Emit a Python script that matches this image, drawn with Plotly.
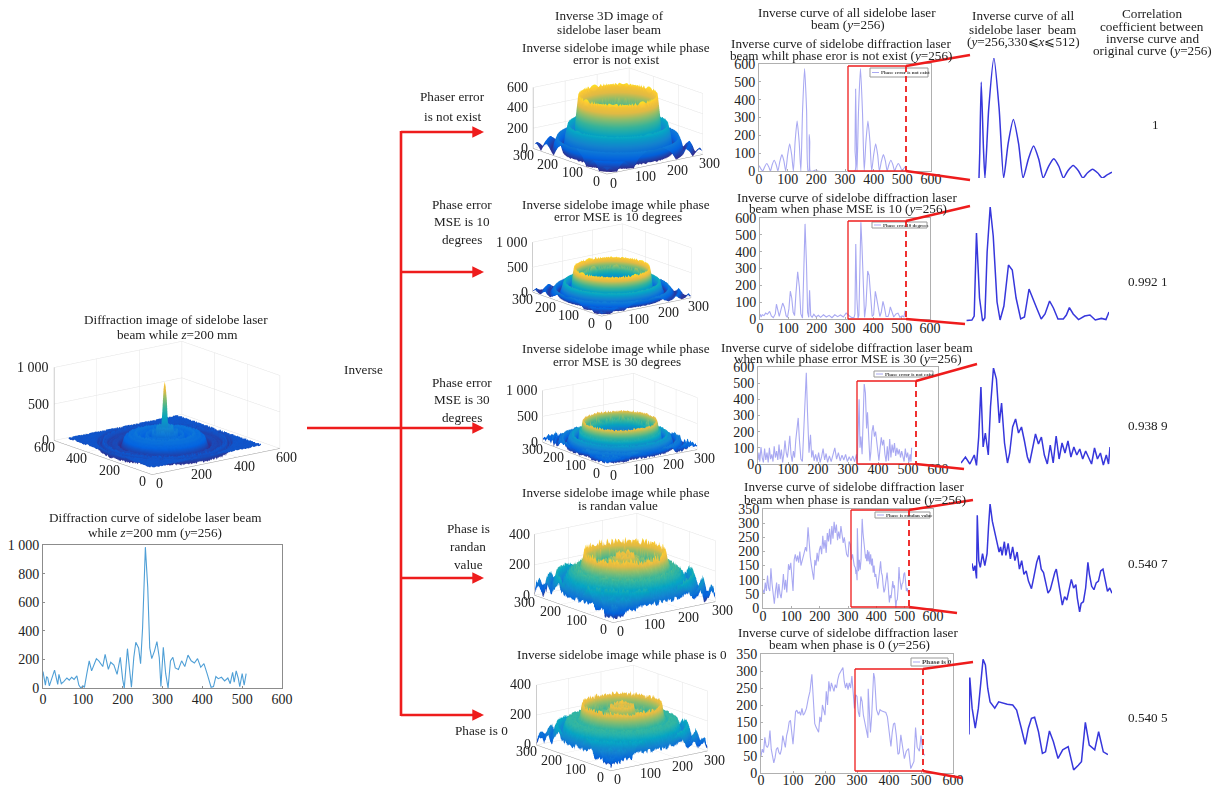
import numpy as np
import plotly.graph_objects as go

W, H = 1220, 787
SERIF = "Liberation Serif"

# ---------- values (x, intensity) ----------
ORIG = [(0,115),(3,75),(6,20),(9,80),(12,70),(16,15),(22,60),(29,125),(33,75),(37,25),(40,95),(46,30),(52,45),(60,70),(66,55),(72,75),(78,60),(85,85),(90,20),(95,0),(100,15),(104,5),(110,100),(116,190),(122,120),(128,160),(134,205),(140,190),(146,165),(150,150),(156,235),(164,130),(170,180),(178,160),(186,95),(194,215),(200,60),(204,0),(212,275),(218,130),(222,5),(228,215),(233,320),(240,280),(245,170),(250,420),(257,985),(263,700),(268,280),(273,205),(280,260),(286,325),(292,210),(296,10),(302,285),(308,100),(314,0),(320,190),(326,215),(332,140),(340,130),(348,190),(356,150),(364,230),(372,190),(380,175),(388,205),(396,145),(404,170),(412,100),(418,30),(422,5),(428,10),(434,80),(440,65),(448,75),(456,50),(464,70),(470,30),(476,110),(480,40),(485,120),(490,70),(494,10),(500,100),(505,20),(510,100)]

CURVE_NONE = [(0,30),(6,14),(13,0),(20,24),(27,42),(34,24),(40,0),(46,35),(53,60),(60,35),(66,0),(73,55),(80,92),(87,55),(93,0),(100,90),(107,153),(114,90),(120,0),(126,165),(133,280),(140,165),(146,0),(152,340),(159,575),(166,340),(171,0),(174,0),(175,205),(177,165),(179,0),(190,0),(197,6),(204,0),(334,0),(335,120),(337,460),(340,140),(342,0),(347,330),(354,575),(361,330),(367,0),(373,165),(380,280),(387,165),(393,0),(400,90),(407,153),(414,90),(420,0),(427,55),(434,92),(441,55),(447,0),(453,35),(460,60),(467,35),(473,0),(479,24),(486,42),(493,24),(499,0),(505,14),(512,28)]

CURVE_10 = [(0,30),(4,12),(8,25),(14,20),(20,35),(26,28),(34,45),(40,18),(47,8),(54,30),(58,88),(63,40),(68,15),(74,55),(80,95),(86,70),(92,20),(97,10),(102,60),(107,165),(112,125),(117,40),(122,20),(127,155),(133,280),(139,190),(144,30),(150,5),(154,260),(159,565),(164,330),(168,40),(172,10),(175,170),(179,20),(184,10),(190,28),(198,12),(206,22),(214,10),(224,25),(234,12),(244,22),(254,8),(264,25),(274,14),(284,24),(294,12),(304,35),(312,20),(318,15),(325,8),(332,10),(335,30),(338,445),(342,120),(346,5),(349,20),(352,350),(356,575),(360,430),(365,100),(369,10),(374,80),(380,285),(385,260),(390,120),(396,15),(401,25),(407,165),(411,130),(417,70),(423,15),(428,40),(434,105),(439,70),(445,15),(452,15),(456,35),(460,72),(465,40),(472,12),(480,30),(487,35),(494,10),(502,18),(508,12),(512,50)]

CURVE_30 = [(0,25),(3,70),(6,15),(10,105),(14,40),(18,10),(22,95),(26,25),(30,70),(34,10),(38,100),(42,30),(46,60),(50,15),(54,110),(58,40),(62,80),(66,25),(70,120),(74,30),(78,90),(82,10),(86,60),(90,145),(94,70),(98,40),(102,100),(106,175),(110,60),(114,15),(118,80),(122,40),(126,150),(130,235),(134,285),(138,150),(143,30),(148,15),(153,220),(158,480),(161,565),(165,320),(170,70),(175,180),(179,40),(183,85),(187,20),(192,60),(197,15),(202,70),(207,10),(212,45),(217,95),(222,25),(227,65),(232,10),(238,50),(244,15),(250,65),(256,100),(262,30),(268,70),(274,20),(280,55),(286,25),(292,60),(298,15),(304,45),(310,20),(316,50),(322,15),(328,60),(331,8),(334,150),(337,400),(340,100),(343,170),(347,60),(350,300),(354,495),(358,440),(362,220),(365,320),(369,120),(373,20),(376,70),(380,200),(384,240),(388,170),(392,200),(396,130),(400,50),(403,20),(407,100),(411,165),(415,115),(419,150),(423,60),(427,15),(431,110),(435,20),(439,155),(443,40),(447,120),(451,70),(455,130),(459,50),(463,100),(467,60),(471,90),(475,40),(479,80),(483,50),(487,15),(491,95),(495,40),(499,70),(503,10),(507,60),(510,15),(512,100)]

CURVE_RAND = [(0,65),(4,50),(8,90),(12,60),(16,115),(20,70),(24,60),(28,140),(32,85),(36,40),(40,15),(44,60),(48,90),(52,35),(56,85),(60,50),(64,35),(68,70),(72,120),(76,65),(80,100),(84,55),(90,155),(94,135),(98,160),(102,110),(106,60),(110,170),(114,190),(118,165),(122,185),(126,160),(130,200),(134,150),(138,170),(144,190),(150,215),(154,200),(159,285),(163,225),(167,180),(171,150),(175,130),(179,100),(183,170),(187,150),(191,195),(195,165),(199,205),(203,220),(207,190),(211,255),(215,210),(219,240),(223,195),(227,265),(231,235),(235,280),(239,225),(243,290),(247,245),(251,305),(255,265),(259,295),(263,240),(267,270),(271,245),(275,290),(279,260),(283,230),(287,250),(291,215),(295,190),(300,180),(304,235),(308,225),(312,170),(316,190),(322,150),(326,142),(328,120),(330,135),(332,98),(333,282),(335,150),(337,130),(340,170),(343,135),(346,170),(348,250),(350,315),(353,265),(356,230),(359,205),(362,175),(364,190),(366,165),(369,205),(371,165),(374,200),(377,155),(380,190),(383,150),(386,175),(389,125),(392,150),(395,110),(398,120),(401,90),(405,68),(408,100),(412,145),(415,165),(418,125),(421,115),(424,80),(427,55),(430,65),(433,95),(436,115),(438,125),(441,90),(444,55),(446,20),(449,45),(452,35),(455,65),(458,95),(461,70),(464,80),(466,40),(469,0),(471,25),(474,30),(477,70),(480,145),(482,110),(485,75),(488,65),(491,85),(494,90),(497,120),(500,125),(503,95),(506,60),(509,70),(512,55)]

CURVE_ZERO = [(0,50),(4,70),(8,60),(12,105),(16,80),(20,75),(24,85),(28,125),(32,70),(36,50),(40,30),(44,45),(48,70),(52,75),(56,60),(60,55),(64,70),(68,110),(72,90),(76,75),(80,110),(84,125),(88,150),(92,155),(96,120),(100,85),(104,130),(108,180),(112,185),(116,175),(120,180),(124,170),(128,190),(132,170),(136,175),(142,190),(148,220),(153,240),(159,290),(164,210),(168,145),(172,135),(176,125),(180,120),(184,165),(188,150),(192,200),(196,180),(200,170),(204,240),(208,200),(212,270),(216,240),(220,265),(224,250),(228,240),(232,260),(236,250),(240,275),(244,290),(250,300),(256,310),(260,270),(264,250),(268,265),(272,245),(276,265),(280,250),(284,285),(288,240),(292,190),(296,230),(300,225),(304,180),(308,165),(312,225),(316,210),(320,170),(324,150),(328,130),(334,103),(335,248),(338,170),(342,119),(346,170),(349,237),(352,294),(355,280),(358,220),(361,186),(367,170),(372,186),(378,182),(383,180),(390,178),(395,165),(401,119),(406,78),(410,119),(414,144),(418,147),(423,110),(428,55),(432,59),(437,112),(442,85),(448,42),(454,64),(461,72),(468,13),(474,25),(478,34),(483,134),(488,76),(495,64),(500,110),(506,59),(512,52)]

GRAIN = [0.3,-0.7,0.9,-0.2,0.6,-1.0,0.1,0.8,-0.5,0.4,-0.9,0.7,-0.1,-0.6,1.0,-0.3,0.5,-0.8,0.2,0.0,-0.4,0.75,-0.65]
PARULA = [[0,"#352a87"],[0.14,"#0363e1"],[0.29,"#1485d4"],[0.43,"#06a7c6"],[0.57,"#38b99e"],[0.71,"#9ac36a"],[0.8,"#e8c046"],[0.9,"#fdc934"],[1,"#f9fb0e"]]

TICKS_600 = [0,100,200,300,400,500,600]
TICKS_350 = [0,50,100,150,200,250,300,350]
RED = "#ee1c1c"
TXT = 13.2


def fx(px): return px / W
def fy(py): return 1 - py / H

fig = go.Figure()
ann, shapes = [], []


def text(x, y, s, size=TXT, anchor="center", color="#222"):
    ann.append(dict(xref="paper", yref="paper", x=fx(x), y=fy(y), text=s, showarrow=False, xanchor=anchor, yanchor="middle",
                    font=dict(family=SERIF, size=size, color=color), borderpad=0, bgcolor="rgba(0,0,0,0)"))


def line(x0, y0, x1, y1, color=RED, width=2.5, dash="solid"):
    shapes.append(dict(type="line", xref="paper", yref="paper", x0=fx(x0), y0=fy(y0), x1=fx(x1), y1=fy(y1), layer="above",
                       line=dict(color=color, width=width, dash=dash)))


axn = [0]
def add_curve(pairs, box, xr, yr, color, lw, ticks=None, frame="#b0b0b0", spline=False, tick_labels=None, xstand=0):
    axn[0] += 1
    n = axn[0]
    s = "" if n == 1 else str(n)
    l, r, t, b = box
    xs = [p[0] for p in pairs if xr[0] <= p[0] <= xr[1]]
    ys = [p[1] for p in pairs if xr[0] <= p[0] <= xr[1]]
    fig.add_trace(go.Scatter(x=xs, y=ys, mode="lines", showlegend=False, hoverinfo="skip",
                             line=dict(color=color, width=lw, shape="spline" if spline else "linear", smoothing=0.6),
                             xaxis="x" + s, yaxis="y" + s))
    common = dict(showgrid=False, zeroline=False, fixedrange=True)
    if ticks is None:
        xa = dict(visible=False, **common); ya = dict(visible=False, **common)
    else:
        xa = dict(showline=True, mirror=True, linecolor=frame, linewidth=1, ticks="inside", ticklen=2, tickcolor=frame,
                  tickvals=TICKS_600, tickfont=dict(family=SERIF, size=14, color="#222"), ticklabelstandoff=xstand, **common)
        ya = dict(showline=True, mirror=True, linecolor=frame, linewidth=1, ticks="inside", ticklen=2, tickcolor=frame,
                  tickvals=ticks, ticktext=tick_labels or [str(v) for v in ticks],
                  tickfont=dict(family=SERIF, size=14, color="#222"), **common)
    xa.update(domain=[fx(l), fx(r)], range=list(xr), anchor="y" + s)
    ya.update(domain=[fy(b), fy(t)], range=list(yr), anchor="x" + s)
    fig.layout["xaxis" + s] = xa
    fig.layout["yaxis" + s] = ya


def surface(pairs, idx, box3d, axmax, zmax, ztick, zlab, cmax, grain, hole=0, az=37.5, n=151):
    cx, cy, L, Hb = box3d
    hpx, wpx = (150 if idx == 0 else 136), 300
    xs_c = [p[0] for p in pairs]; ys_c = [p[1] for p in pairs]
    ext = axmax * (512 / 600 if idx == 0 else 1)
    g = np.linspace(0, ext, n)
    X, Y = np.meshgrid(g, g)
    rho = np.hypot(X - ext / 2, Y - ext / 2)
    Z = np.interp(256 + rho, xs_c, ys_c)
    ii, jj = np.meshgrid(np.arange(n), np.arange(n))
    G = np.array(GRAIN)[(ii * ii * 3 + jj * 7 + ii * jj) % len(GRAIN)]
    Z = np.clip(Z + grain * G, 0, None)
    if hole:
        Z = np.where((rho < hole) & (G > 0.55), Z + G * 0.16 * zmax, Z)
    sid = "scene" if idx == 0 else f"scene{idx+1}"
    fig.add_trace(go.Surface(x=g, y=g, z=Z, colorscale=PARULA, cmin=0, cmax=cmax, showscale=False, scene=sid, hoverinfo="skip",
                             lighting=dict(ambient=0.97, diffuse=0.08, specular=0.0, roughness=1, fresnel=0)))
    el = np.radians(15.5)
    a = np.radians(az)
    D = 4.0
    eye = dict(x=-np.sin(a) * np.cos(el) * D, y=-np.cos(a) * np.cos(el) * D, z=np.sin(el) * D)
    tv = [axmax * i / 3 for i in range(4)]
    axcommon = dict(showbackground=False, showgrid=True, gridcolor="#e4e4e4", gridwidth=1, showline=True, linecolor="#9a9a9a",
                    linewidth=1, zeroline=False, showticklabels=False, ticks="", title=dict(text=""), showspikes=False)
    sa = []
    fnt = dict(family=SERIF, size=14, color="#222")
    for v in tv:
        sa.append(dict(x=v, y=0, z=0, text=str(int(v)), showarrow=False, xshift=7, yshift=-9, font=fnt))
        sa.append(dict(x=0, y=v, z=0, text=str(int(v)), showarrow=False, xshift=-10, yshift=-7, font=fnt))
    for v, t in zip(ztick, zlab):
        sa.append(dict(x=0, y=axmax, z=v, text=t, showarrow=False, xanchor="right", xshift=-3, yshift=0, font=fnt))
    unit = hpx / 2
    fig.layout[sid] = dict(
        domain=dict(x=[fx(cx - wpx / 2), fx(cx + wpx / 2)], y=[fy(cy + hpx / 2), fy(cy - hpx / 2)]),
        xaxis=dict(range=[0, axmax], tickvals=tv, **axcommon),
        yaxis=dict(range=[0, axmax], tickvals=tv, **axcommon),
        zaxis=dict(range=[0, zmax], tickvals=ztick, **axcommon),
        aspectmode="manual", aspectratio=dict(x=L / unit, y=L / unit, z=Hb / np.cos(el) / unit),
        camera=dict(eye=eye, up=dict(x=0, y=0, z=1), center=dict(x=0, y=0, z=0), projection=dict(type="orthographic")),
        annotations=sa, bgcolor="rgba(0,0,0,0)")


# ---------- 3D panels ----------
surface(ORIG, 0, (167, 408, 161, 73), 600, 1000, [0,500,1000], ["0","500","1 000"], 1000, 18)
surface(CURVE_NONE, 1, (618, 121, 121, 61), 300, 600, [0,200,400,600], ["0","200","400","600"], 600, 0, hole=80)
surface(CURVE_10, 2, (612, 270, 113, 50), 300, 1000, [0,500,1000], ["0","500","1 000"], 600, 10, hole=80)
surface(CURVE_30, 3, (620, 420, 111, 52), 300, 1000, [0,500,1000], ["0","500","1 000"], 600, 26, hole=80, az=35)
surface(CURVE_RAND, 4, (625, 568, 129, 61), 300, 400, [0,200,400], ["0","200","400"], 350, 24)
surface(CURVE_ZERO, 5, (622, 718, 122, 60), 300, 400, [0,200,400], ["0","200","400"], 350, 20)

# ---------- 2D panels ----------
LIGHT = "#a9a9f2"
DARK = "#3737dc"
add_curve(ORIG, (43, 282, 545, 688), (0, 600), (0, 1000), "#4f9fd6", 1.1, ticks=[0,200,400,600,800,1000],
          tick_labels=["0","200","400","600","800","1 000"], frame="#8c8c8c", xstand=-2)
add_curve(CURVE_NONE, (759, 931, 64, 171), (0, 600), (0, 600), LIGHT, 1.1, ticks=TICKS_600[:], spline=True, xstand=-5)
add_curve(CURVE_10, (760, 930, 218, 319), (0, 600), (0, 600), LIGHT, 1.1, ticks=TICKS_600[:], xstand=-4)
add_curve(CURVE_30, (758, 938, 367, 464), (0, 600), (0, 600), LIGHT, 1.1, ticks=TICKS_600[:], xstand=-8)
add_curve(CURVE_RAND, (763, 933, 509, 608), (0, 600), (0, 350), LIGHT, 1.1, ticks=TICKS_350, xstand=-5)
add_curve(CURVE_ZERO, (761, 953, 654, 773), (0, 600), (0, 350), LIGHT, 1.1, ticks=TICKS_350, xstand=-6)
# magnified right-hand parts
add_curve(CURVE_NONE, (976, 1112, 58, 178), (330, 512), (0, 575), DARK, 1.5, spline=True)
add_curve(CURVE_10, (962, 1109, 207, 322), (319, 512), (0, 575), DARK, 1.5)
add_curve(CURVE_30, (961, 1110, 368, 467), (310, 512), (0, 495), DARK, 1.5)
add_curve(CURVE_RAND, (972, 1112, 504, 612), (326, 512), (0, 315), DARK, 1.5)
add_curve(CURVE_ZERO, (969, 1108, 659, 775), (334, 512), (0, 295), DARK, 1.5)

# ---------- legends ----------
LEG = [(870, 928, 68, 77, "Phase error is not exist", 5), (872, 927, 222, 228, "Phase err=10 degrees", 5),
       (874, 933, 371, 377, "Phase error is not exist", 5), (875, 930, 512, 518, "Phase is randan value", 5),
       (911, 948, 658, 666, "Phase is 0", 7)]
for l, r, t, b, s, sz in LEG:
    shapes.append(dict(type="rect", xref="paper", yref="paper", x0=fx(l), x1=fx(r), y0=fy(b), y1=fy(t), layer="above",
                       fillcolor="white", line=dict(color="#999", width=1)))
    line(l + 2, (t + b) / 2, l + 9, (t + b) / 2, color=LIGHT, width=1)
    text(l + 10, (t + b) / 2, f"<b>{s}</b>", size=sz, anchor="left", color="#444")

# ---------- red zoom frames and connectors ----------
FRAMES = [(848, 906, 66, 171, 970, 55, 970, 180), (848, 906, 221, 319, 970, 206, 965, 324),
          (857, 916, 381, 464, 977, 364, 964, 469), (851, 909, 510, 607, 973, 500, 957, 613),
          (855, 923, 669, 771, 973, 662, 962, 778)]
for l, r, t, b, ux, uy, dx, dy in FRAMES:
    line(l, t, r, t, width=1.3); line(l, b, r, b, width=1.3); line(l, t, l, b, width=1.3)
    line(r, t, r, b, width=1.8, dash="6px,4px")
    line(r, t, ux, uy); line(r, b, dx, dy)

# ---------- red tree ----------
line(307, 428, 401, 428, width=2.6)
line(401, 131, 401, 716, width=2.6)
for y in [132, 272, 428, 578, 715]:
    line(401, y, 474, y, width=2.6)
    ann.append(dict(xref="paper", yref="paper", x=fx(484), y=fy(y), ax=-12, ay=0, axref="pixel", ayref="pixel", text="",
                    showarrow=True, arrowhead=2, arrowsize=0.9, arrowwidth=2.6, arrowcolor=RED, standoff=0))

# ---------- text ----------
LABELS = [
 (176,319,"Diffraction image of sidelobe laser"),(177,334,"beam while <i>z</i>=200 mm"),
 (155,517,"Diffraction curve of sidelobe laser beam"),(155,532,"while <i>z</i>=200 mm (<i>y</i>=256)"),
 (363,369,"Inverse"),
 (452,97,"Phaser error"),(452,116,"is not exist"),
 (462,205,"Phase error"),(462,222,"MSE is 10"),(462,240,"degrees"),
 (462,382,"Phase error"),(462,399,"MSE is 30"),(462,417,"degrees"),
 (468,528,"Phase is"),(468,546,"randan"),(468,564,"value"),(481,730,"Phase is 0"),
 (609,16,"Inverse 3D image of"),(609,29,"sidelobe laser beam"),
 (616,48,"Inverse sidelobe image while phase"),(616,60,"error is not exist"),
 (616,205,"Inverse sidelobe image while phase"),(618,217,"error MSE is 10 degrees"),
 (616,349,"Inverse sidelobe image while phase"),(617,361,"error MSE is 30 degrees"),
 (616,492,"Inverse sidelobe image while phase"),(618,505,"is randan value"),
 (622,654,"Inverse sidelobe image while phase is 0"),
 (847,13,"Inverse curve of all sidelobe laser"),(848,25,"beam (<i>y</i>=256)"),
 (841,43,"Inverse curve of sidelobe diffraction laser"),(841,55,"beam whilt phase eror is not exist (<i>y</i>=256)"),
 (847,197,"Inverse curve of sidelobe diffraction laser"),(848,209,"beam when phase MSE is 10 (<i>y</i>=256)"),
 (847,347,"Inverse curve of sidelobe diffraction laser beam"),(848,358,"when while phase error MSE is 30 (<i>y</i>=256)"),
 (854,487,"Inverse curve of sidelobe diffraction laser"),(855,499,"beam when phase is randan value (<i>y</i>=256)"),
 (848,632,"Inverse curve of sidelobe diffraction laser"),(849,644,"beam when phase is 0 (<i>y</i>=256)"),
 (1023,16,"Inverse curve of all"),(1023,29,"sidelobe laser  beam"),(1023,41,"(<i>y</i>=256,330⩽<i>x</i>⩽512)"),
 (1152,14,"Correlation"),(1152,26,"coefficient between"),(1152,38,"inverse curve and"),(1152,50,"original curve (<i>y</i>=256)"),
 (1155,124,"1"),(1148,281,"0.992 1"),(1148,425,"0.938 9"),(1148,563,"0.540 7"),(1148,717,"0.540 5"),
]
for x, y, s in LABELS:
    text(x, y, s)

fig.update_layout(width=W, height=H, margin=dict(l=0, r=0, t=0, b=0, autoexpand=False), paper_bgcolor="white",
                  plot_bgcolor="rgba(0,0,0,0)", showlegend=False, annotations=ann, shapes=shapes)
fig.write_html("out.html", config=dict(displayModeBar=False), post_script="document.body.style.margin='0';")
